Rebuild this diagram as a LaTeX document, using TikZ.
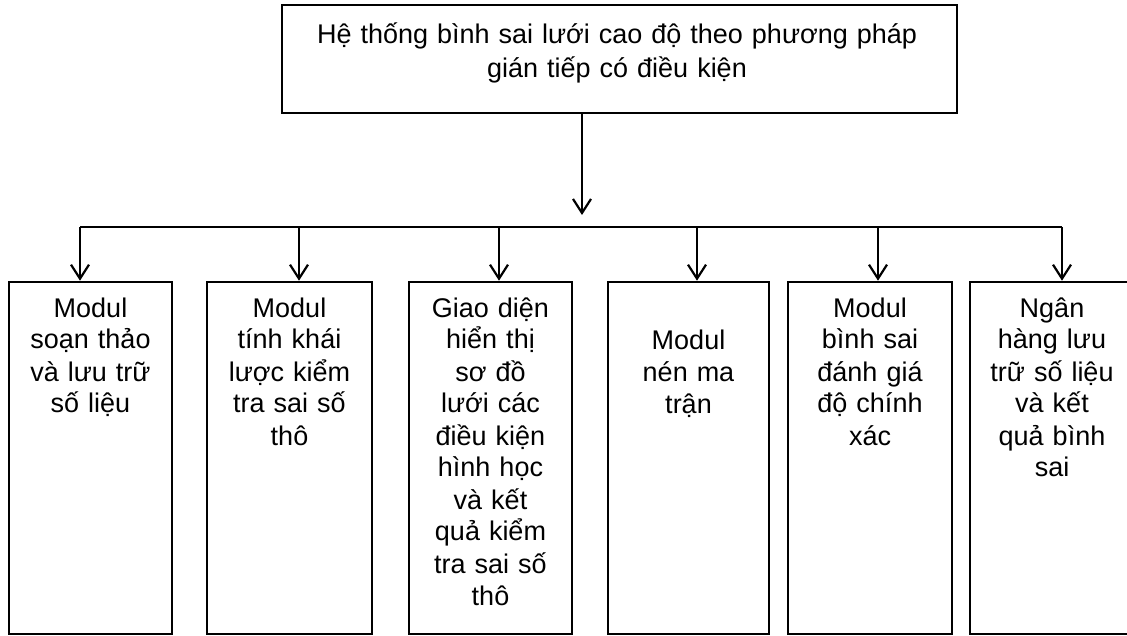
\documentclass[tikz,border=0pt]{standalone}
\usepackage{fontspec}
\setmainfont{Liberation Sans}
\usetikzlibrary{arrows.meta}
\tikzset{
  box/.style={draw, line width=2.6pt, rectangle, inner sep=0pt},
  txt/.style={align=center, text width=160pt, font=\fontsize{27}{32}\selectfont, anchor=base, inner sep=0pt},
  conn/.style={line width=2.4pt},
  arr/.style={line width=2.4pt, -{Straight Barb[length=14pt,width=18pt,line width=2.2pt]}}
}
\begin{document}
\begin{tikzpicture}[x=1pt,y=-1pt]
\useasboundingbox (0,0) rectangle (1127,636);
\clip (0,0) rectangle (1127,636);
% top box
\node[box, minimum width=675pt, minimum height=108pt] (top) at (619.5,59) {};
\node[align=center, text width=670pt, font=\fontsize{27}{34}\selectfont, anchor=base, inner sep=0pt] (toptxt) at (617,44)
  {Hệ thống bình sai lưới cao độ theo phương pháp\\gián tiếp có điều kiện};
% hub and bus
\coordinate (hub) at (582,227);
\coordinate (a1) at (80,227);
\coordinate (a2) at (299,227);
\coordinate (a3) at (499,227);
\coordinate (a4) at (697,227);
\coordinate (a5) at (878,227);
\coordinate (a6) at (1062,227);
% bottom boxes
\node[box, minimum width=163pt, minimum height=352pt] (b1) at (90.5,458) {};
\node[box, minimum width=165pt, minimum height=352pt] (b2) at (289.5,458) {};
\node[box, minimum width=163pt, minimum height=352pt] (b3) at (490.5,458) {};
\node[box, minimum width=161pt, minimum height=352pt] (b4) at (688.5,458) {};
\node[box, minimum width=164pt, minimum height=352pt] (b5) at (870,458) {};
\node[box, minimum width=164pt, minimum height=352pt] (b6) at (1052,458) {};
% texts
\node[txt] (t1) at (90.5,317) {Modul\\soạn thảo\\và lưu trữ\\số liệu};
\node[txt] (t2) at (289.5,317) {Modul\\tính khái\\lược kiểm\\tra sai số\\thô};
\node[txt] (t3) at (490.5,317) {Giao diện\\hiển thị\\sơ đồ\\lưới các\\điều kiện\\hình học\\và kết\\quả kiểm\\tra sai số\\thô};
\node[txt] (t4) at (688.5,349) {Modul\\nén ma\\trận};
\node[txt] (t5) at (870,317) {Modul\\bình sai\\đánh giá\\độ chính\\xác};
\node[txt] (t6) at (1052,317) {Ngân\\hàng lưu\\trữ số liệu\\và kết\\quả bình\\sai};
% connectors
\draw[arr] (top.south -| hub) -- ([yshift=12pt]hub);
\draw[conn] (a1) -- (a6);
\draw[arr] (a1) -- (a1 |- b1.north);
\draw[arr] (a2) -- (a2 |- b2.north);
\draw[arr] (a3) -- (a3 |- b3.north);
\draw[arr] (a4) -- (a4 |- b4.north);
\draw[arr] (a5) -- (a5 |- b5.north);
\draw[arr] (a6) -- (a6 |- b6.north);
\end{tikzpicture}
\end{document}
